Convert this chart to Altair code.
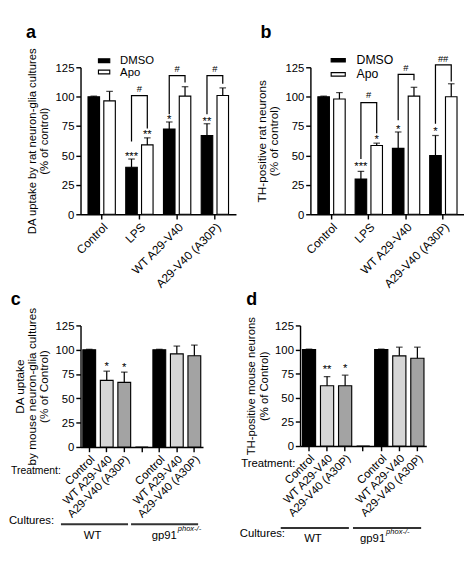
import altair as alt
import pandas as pd

FONT = "Liberation Sans"

# ---------------- data: panels a & b ----------------
cats_ab = ["Control", "LPS", "WT A29-V40", "A29-V40 (A30P)"]
groups_ab = ["DMSO", "Apo"]

a_dmso = [100, 40, 72.5, 67]
a_dmso_err = [0.5, 7, 6, 10]
a_apo = [96.5, 59, 100.5, 101]
a_apo_err = [8, 6, 8, 6.5]
a_star_dmso = ["", "***", "*", "**"]
a_star_dmso_y = [0, 52, 83, 81.5]
a_star_apo = ["", "**", "", ""]
a_star_apo_y = [0, 70.5, 0, 0]
a_br_cats = ["LPS", "WT A29-V40", "A29-V40 (A30P)"]
a_br_top = [101, 118, 118]
a_br_left = [62, 85, 85]
a_br_right = [73, 112, 111]
a_br_label = ["#", "#", "#"]
a_br_label_y = [106, 123, 123]

b_dmso = [100, 30, 56, 50]
b_dmso_err = [0.5, 6.5, 14, 17]
b_apo = [98, 58.5, 100.5, 100]
b_apo_err = [5.5, 2, 7.5, 11]
b_star_dmso = ["", "***", "*", "*"]
b_star_dmso_y = [0, 43, 75, 73]
b_star_apo = ["", "*", "", ""]
b_star_apo_y = [0, 66, 0, 0]
b_br_cats = ["LPS", "WT A29-V40", "A29-V40 (A30P)"]
b_br_top = [95, 119, 127]
b_br_left = [47, 80, 77]
b_br_right = [69, 114, 113]
b_br_label = ["#", "#", "##"]
b_br_label_y = [101, 124, 132]

# ---------------- data: panels c & d ----------------
treatments = ["Control", "WT A29-V40", "A29-V40 (A30P)"]
cultures = ["WT", "gp91"]

c_wt = [100, 68.5, 66.5]
c_wt_err = [0.5, 9.5, 10.5]
c_gp = [100, 95.8, 93.8]
c_gp_err = [0.5, 8, 11]
c_wt_star = ["", "*", "*"]
c_wt_star_y = [0, 86, 84.7]

d_wt = [100, 62.5, 62.5]
d_wt_err = [0.5, 9.5, 11]
d_gp = [100, 93.5, 91]
d_gp_err = [0.5, 9, 11.5]
d_wt_star = ["", "**", "*"]
d_wt_star_y = [0, 82.6, 84]

Y_TICKS = [0, 25, 50, 75, 100, 125]


def y_axis(title, tsize):
    return alt.Axis(values=Y_TICKS, title=title, titleFontSize=tsize, titleFont=FONT,
                    titleFontWeight="normal", titleLineHeight=13, titlePadding=5,
                    labelFontSize=12, labelFont=FONT, tickSize=5, labelPadding=2,
                    domainWidth=1.5, tickWidth=1.5, grid=False)


def x_axis(size, expr=None):
    kw = dict(title=None, labelAngle=-45, labelFontSize=size, labelFont=FONT, tickSize=5,
              domainWidth=1.5, tickWidth=1.5, labelPadding=2, grid=False)
    if expr:
        kw["labelExpr"] = expr
    return alt.Axis(**kw)


def letter_mark(letter, lx, ly):
    return alt.Chart(pd.DataFrame(dict(t=[letter]))).mark_text(
        fontSize=19, fontWeight="bold", font=FONT, align="left", baseline="alphabetic").encode(
        x=alt.value(lx), y=alt.value(ly), text="t:N")


def panel_ab(letter, lpos, ytitle, tsize, dmso, dmso_err, apo, apo_err, sd, sdy, sa, say,
             br_cats, br_top, br_left, br_right, br_lab, br_lab_y, w, h, leg):
    rows = []
    for i, c in enumerate(cats_ab):
        rows.append(dict(cat=c, grp="DMSO", val=dmso[i], top=dmso[i] + dmso_err[i], star=sd[i], sy=sdy[i]))
        rows.append(dict(cat=c, grp="Apo", val=apo[i], top=apo[i] + apo_err[i], star=sa[i], sy=say[i]))
    df = pd.DataFrame(rows)
    stars = df[df["star"] != ""]

    br_rows = []
    for i, c in enumerate(br_cats):
        br_rows += [dict(cat=c, grp="DMSO", by=br_left[i], o=0),
                    dict(cat=c, grp="DMSO", by=br_top[i], o=1),
                    dict(cat=c, grp="Apo", by=br_top[i], o=2),
                    dict(cat=c, grp="Apo", by=br_right[i], o=3)]
    br_df = pd.DataFrame(br_rows)
    brl_df = pd.DataFrame(dict(cat=br_cats, ly=br_lab_y, lab=br_lab))

    xs = alt.Scale(domain=cats_ab, paddingInner=0, paddingOuter=0.06)
    xa = x_axis(12.5)
    ya = y_axis(ytitle, tsize)
    X = alt.X("cat:N", scale=xs, axis=xa)
    XO = alt.XOffset("grp:N", scale=alt.Scale(domain=groups_ab, paddingInner=0.27, paddingOuter=0.33))
    ys = alt.Scale(domain=[0, 125], nice=False)

    def Y(f):
        return alt.Y(f, scale=ys, axis=ya)

    bars = alt.Chart(df).mark_bar(stroke="black", strokeWidth=1.2).encode(
        x=X, xOffset=XO, y=Y("val:Q"),
        fill=alt.Fill("grp:N", scale=alt.Scale(domain=groups_ab, range=["black", "white"]),
                      legend=alt.Legend(orient="none", legendX=leg["x"], legendY=leg["y"], title=None,
                                        symbolType=leg["path"], symbolSize=leg["size"],
                                        symbolStrokeColor="black", symbolStrokeWidth=1.2,
                                        labelFontSize=leg["font"], labelFont=FONT,
                                        rowPadding=leg["rp"], padding=0, labelOffset=leg["lo"],
                                        labelColor="black")),
    )
    err = alt.Chart(df).mark_rule(color="black", strokeWidth=1.3).encode(
        x=X, xOffset=XO, y=Y("val:Q"), y2="top:Q")
    caps = alt.Chart(df).mark_tick(orient="horizontal", size=7, thickness=1.3, color="black").encode(
        x=X, xOffset=XO, y=Y("top:Q"))
    st = alt.Chart(stars).mark_text(fontSize=12, font=FONT, baseline="middle", dy=3).encode(
        x=X, xOffset=XO, y=Y("sy:Q"), text="star:N")
    br = alt.Chart(br_df).mark_line(color="black", strokeWidth=1.3).encode(
        x=X, xOffset=XO, y=Y("by:Q"), detail="cat:N", order="o:Q")
    brl = alt.Chart(brl_df).mark_text(fontSize=10, font=FONT, baseline="middle").encode(
        x=X, y=Y("ly:Q"), text="lab:N")

    return alt.layer(bars, err, caps, st, br, brl, letter_mark(letter, *lpos)).properties(
        width=w, height=h)


def panel_cd(letter, lpos, ytitle, tsize, wt, wt_err, gp, gp_err, wst, wsty, w, h, ann):
    ids, trt, vals, tops, star, sy = [], [], [], [], [], []
    for i, t in enumerate(treatments):
        ids.append("WT|" + t); trt.append(t); vals.append(wt[i]); tops.append(wt[i] + wt_err[i])
        star.append(wst[i]); sy.append(wsty[i])
    ids.append("gap|"); trt.append("gap"); vals.append(0); tops.append(0); star.append(""); sy.append(0)
    for i, t in enumerate(treatments):
        ids.append("gp|" + t); trt.append(t); vals.append(gp[i]); tops.append(gp[i] + gp_err[i])
        star.append(""); sy.append(0)
    df = pd.DataFrame(dict(id=ids, trt=trt, val=vals, top=tops, star=star, sy=sy))
    errdf = df[df["trt"] != "gap"]
    stars = df[df["star"] != ""]

    xs = alt.Scale(domain=ids, paddingInner=0.27, paddingOuter=0.13)
    xa = x_axis(12, "split(datum.value, '|')[1]")
    ya = y_axis(ytitle, tsize)
    X = alt.X("id:N", scale=xs, axis=xa)
    ys = alt.Scale(domain=[0, 125], nice=False)

    def Y(f):
        return alt.Y(f, scale=ys, axis=ya)

    bars = alt.Chart(df).mark_bar(stroke="black", strokeWidth=1.2).encode(
        x=X, y=Y("val:Q"),
        fill=alt.Fill("trt:N", scale=alt.Scale(domain=treatments + ["gap"],
                                               range=["black", "#d6d6d6", "#a3a3a3", "black"]),
                      legend=None))
    err = alt.Chart(errdf).mark_rule(color="black", strokeWidth=1.3).encode(
        x=X, y=Y("val:Q"), y2="top:Q")
    caps = alt.Chart(errdf).mark_tick(orient="horizontal", size=7, thickness=1.3, color="black").encode(
        x=X, y=Y("top:Q"))
    st = alt.Chart(stars).mark_text(fontSize=12, font=FONT, baseline="middle", dy=3).encode(
        x=X, y=Y("sy:Q"), text="star:N")

    # annotation rows under the axis
    lines_df = pd.DataFrame(dict(id=["WT|" + treatments[0], "gp|" + treatments[0]],
                                 id2=["WT|" + treatments[2], "gp|" + treatments[2]]))
    lines = alt.Chart(lines_df).mark_rule(color="#333333", strokeWidth=2, xOffset=-30, x2Offset=4).encode(
        x=X, x2="id2:N", y=alt.value(h + ann["line"]))
    wt_lab = alt.Chart(pd.DataFrame(dict(id=["WT|" + treatments[1]], t=[cultures[0]]))).mark_text(
        fontSize=12, font=FONT, baseline="middle", dx=ann["wtdx"]).encode(
        x=X, y=alt.value(h + ann["wt"]), text="t:N")
    gp_lab = alt.Chart(pd.DataFrame(dict(id=["gp|" + treatments[1]], t=[cultures[1]]))).mark_text(
        fontSize=12, font=FONT, baseline="middle", align="right", dx=ann["gpdx"]).encode(
        x=X, y=alt.value(h + ann["wt"]), text="t:N")
    gp_sup = alt.Chart(pd.DataFrame(dict(id=["gp|" + treatments[1]], t=["phox-/-"]))).mark_text(
        fontSize=8, font=FONT, fontStyle="italic", baseline="middle", align="left",
        dx=ann["gpdx"] + 1).encode(
        x=X, y=alt.value(h + ann["wt"] - 7), text="t:N")
    treat = alt.Chart(pd.DataFrame(dict(t=["Treatment:"]))).mark_text(
        fontSize=ann["tfs"], font=FONT, baseline="middle", align="right").encode(
        x=alt.value(ann["tx"]), y=alt.value(h + ann["ty"]), text="t:N")
    cult = alt.Chart(pd.DataFrame(dict(t=["Cultures:"]))).mark_text(
        fontSize=12, font=FONT, baseline="middle", align="right").encode(
        x=alt.value(ann["cx"]), y=alt.value(h + ann["cy"]), text="t:N")
    layers = [bars, err, caps, st, lines, wt_lab, gp_lab, gp_sup, treat, cult,
              letter_mark(letter, *lpos)]
    if ann.get("spacer"):
        spacer = alt.Chart(pd.DataFrame(dict(t=[""]))).mark_rule(strokeOpacity=0).encode(
            x=alt.value(w), x2=alt.value(w + ann["spacer"]), y=alt.value(h))
        layers.append(spacer)

    return alt.layer(*layers).properties(width=w, height=h)


pa = panel_ab("a", (-58, -31), ["DA uptake by rat neuron-glia cultures", "(% of control)"], 12,
              a_dmso, a_dmso_err, a_apo, a_apo_err, a_star_dmso, a_star_dmso_y,
              a_star_apo, a_star_apo_y, a_br_cats, a_br_top, a_br_left, a_br_right,
              a_br_label, a_br_label_y, 165, 156,
              dict(x=19, y=-13, path="M-2,-0.67H2V0.67H-2Z", size=36, font=12, rp=0, lo=11))
pb = panel_ab("b", (-53, -31), ["TH-positive rat neurons", "(% of control)"], 12.5,
              b_dmso, b_dmso_err, b_apo, b_apo_err, b_star_dmso, b_star_dmso_y,
              b_star_apo, b_star_apo_y, b_br_cats, b_br_top, b_br_left, b_br_right,
              b_br_label, b_br_label_y, 163, 156,
              dict(x=23, y=-14, path="M-2,-0.5H2V0.5H-2Z", size=56, font=13, rp=1, lo=13))
pc = panel_cd("c", (-74, -22), ["DA uptake", "by mouse neuron-glia cultures", "(% of Control)"], 12.5,
              c_wt, c_wt_err, c_gp, c_gp_err, c_wt_star, c_wt_star_y, 130, 129,
              dict(line=82, wt=94, wtdx=-15, gpdx=0, tx=-21, ty=26, tfs=11, cx=-28, cy=78, spacer=18))
pd_ = panel_cd("d", (-57, -22), ["TH-positive mouse neurons", "(% of Control)"], 12,
               d_wt, d_wt_err, d_gp, d_gp_err, d_wt_star, d_wt_star_y, 134, 128,
               dict(line=87, wt=98, wtdx=-15, gpdx=-15, tx=-5, ty=18, tfs=12, cx=-16, cy=93))

top_row = alt.hconcat(pa, pb, spacing=20).resolve_scale(fill="independent").resolve_legend(fill="independent")
bot_row = alt.hconcat(pc, pd_, spacing=20).resolve_scale(fill="independent").resolve_legend(fill="independent")

chart = alt.vconcat(top_row, bot_row, spacing=0).resolve_scale(
    fill="independent").resolve_legend(fill="independent").properties(
    padding=0).configure_view(stroke=None).configure_axis(
    domainColor="black", tickColor="black", labelColor="black", titleColor="black"
).configure_text(color="black")

chart.save("out.html", embed_options={"renderer": "svg", "actions": False})
